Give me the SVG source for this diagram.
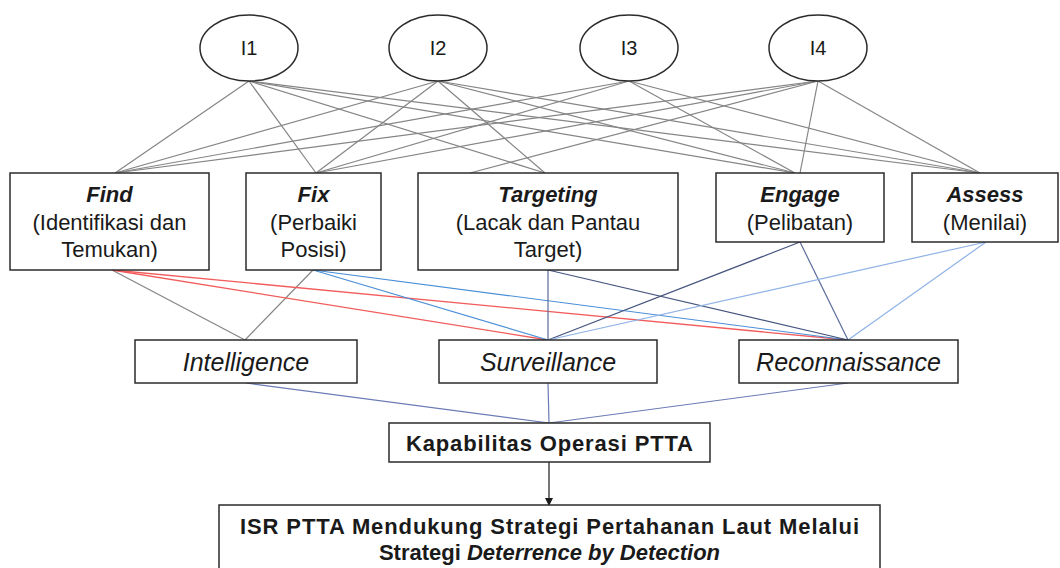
<svg xmlns="http://www.w3.org/2000/svg" width="1060" height="568" viewBox="0 0 1060 568">
  <style>
    .txt { font-family: "Liberation Sans", Arial, sans-serif; fill: #1a1a1a; text-anchor: middle; }
    .ell { fill: #ffffff; stroke: #2b2b2b; stroke-width: 1.5; }
    .box { fill: #ffffff; stroke: #2b2b2b; stroke-width: 1.5; }
    .lbl { font-size: 20px; }
    .ttl { font-size: 22px; font-weight: bold; font-style: italic; }
    .sub { font-size: 22px; }
    .isr { font-size: 25px; font-style: italic; }
    .bld { font-size: 22px; font-weight: bold; }
    .gray { stroke: #858585; stroke-width: 1.2; fill: none; }
    .red { stroke: #f25c5c; stroke-width: 1.3; fill: none; }
    .blue { stroke: #4a8fd6; stroke-width: 1.2; fill: none; }
    .slate { stroke: #5c6c9c; stroke-width: 1.2; fill: none; }
    .navy { stroke: #46557f; stroke-width: 1.2; fill: none; }
    .light { stroke: #8fb2e6; stroke-width: 1.2; fill: none; }
    .link { stroke: #6b7bb5; stroke-width: 1.2; fill: none; }
    .arrow { stroke: #1a1a1a; stroke-width: 1.2; fill: none; }
  </style>
  <defs>
    <marker id="arrowhead" markerWidth="8" markerHeight="8" refX="7" refY="4" orient="auto" markerUnits="userSpaceOnUse">
      <path d="M0,0 L8,4 L0,8 Z" fill="#1a1a1a"/>
    </marker>
  </defs>

  <!-- connectors -->
  <g id="connectors">
    <!-- indicators to F2T2EA stages -->
    <line class="gray" x1="249" y1="81" x2="115" y2="173"/>
    <line class="gray" x1="249" y1="81" x2="316" y2="173"/>
    <line class="gray" x1="249" y1="81" x2="545" y2="173"/>
    <line class="gray" x1="249" y1="81" x2="795" y2="173"/>
    <line class="gray" x1="249" y1="81" x2="980" y2="173"/>
    <line class="gray" x1="438" y1="81" x2="115" y2="173"/>
    <line class="gray" x1="438" y1="81" x2="316" y2="173"/>
    <line class="gray" x1="438" y1="81" x2="545" y2="173"/>
    <line class="gray" x1="438" y1="81" x2="795" y2="173"/>
    <line class="gray" x1="438" y1="81" x2="980" y2="173"/>
    <line class="gray" x1="629" y1="81" x2="115" y2="173"/>
    <line class="gray" x1="629" y1="81" x2="316" y2="173"/>
    <line class="gray" x1="629" y1="81" x2="795" y2="173"/>
    <line class="gray" x1="629" y1="81" x2="980" y2="173"/>
    <line class="gray" x1="818" y1="81" x2="115" y2="173"/>
    <line class="gray" x1="818" y1="81" x2="316" y2="173"/>
    <line class="gray" x1="818" y1="81" x2="470" y2="173"/>
    <line class="gray" x1="818" y1="81" x2="800" y2="173"/>
    <line class="gray" x1="818" y1="81" x2="980" y2="173"/>

    <!-- stages to ISR elements -->
    <line class="gray" x1="112" y1="270" x2="245" y2="340"/>
    <line class="gray" x1="313" y1="270" x2="245" y2="340"/>
    <line class="red" x1="112" y1="270" x2="548" y2="340"/>
    <line class="red" x1="112" y1="270" x2="848" y2="340"/>
    <line class="blue" x1="313" y1="270" x2="548" y2="340"/>
    <line class="blue" x1="313" y1="270" x2="848" y2="340"/>
    <line class="slate" x1="548" y1="270" x2="548" y2="340"/>
    <line class="navy" x1="548" y1="270" x2="848" y2="340"/>
    <line class="navy" x1="800" y1="242" x2="548" y2="340"/>
    <line class="slate" x1="800" y1="242" x2="848" y2="340"/>
    <line class="light" x1="986" y1="242" x2="548" y2="340"/>
    <line class="light" x1="986" y1="242" x2="848" y2="340"/>

    <!-- ISR elements to capability -->
    <line class="link" x1="246" y1="383" x2="549" y2="423"/>
    <line class="link" x1="548" y1="383" x2="549" y2="423"/>
    <line class="link" x1="848" y1="383" x2="549" y2="423"/>

    <!-- capability to strategy -->
    <line class="arrow" x1="549" y1="462" x2="549" y2="505" marker-end="url(#arrowhead)"/>
  </g>

  <!-- indicators -->
  <g id="I1">
    <ellipse class="ell" cx="249" cy="48" rx="49" ry="33"/>
    <text class="txt lbl" x="249" y="55">I1</text>
  </g>
  <g id="I2">
    <ellipse class="ell" cx="438" cy="48" rx="49" ry="33"/>
    <text class="txt lbl" x="438" y="55">I2</text>
  </g>
  <g id="I3">
    <ellipse class="ell" cx="629" cy="48" rx="49" ry="33"/>
    <text class="txt lbl" x="629" y="55">I3</text>
  </g>
  <g id="I4">
    <ellipse class="ell" cx="818" cy="48" rx="49" ry="33"/>
    <text class="txt lbl" x="818" y="55">I4</text>
  </g>

  <!-- kill-chain stages -->
  <g id="find">
    <rect class="box" x="10" y="173" width="199" height="97"/>
    <text class="txt ttl" x="109.5" y="202">Find</text>
    <text class="txt sub" x="109.5" y="230">(Identifikasi dan</text>
    <text class="txt sub" x="109.5" y="257">Temukan)</text>
  </g>
  <g id="fix">
    <rect class="box" x="246" y="173" width="135" height="97"/>
    <text class="txt ttl" x="313.5" y="202">Fix</text>
    <text class="txt sub" x="313.5" y="230">(Perbaiki</text>
    <text class="txt sub" x="313.5" y="257">Posisi)</text>
  </g>
  <g id="targeting">
    <rect class="box" x="418" y="173" width="260" height="97"/>
    <text class="txt ttl" x="548" y="202">Targeting</text>
    <text class="txt sub" x="548" y="230">(Lacak dan Pantau</text>
    <text class="txt sub" x="548" y="257">Target)</text>
  </g>
  <g id="engage">
    <rect class="box" x="716" y="173" width="168" height="69"/>
    <text class="txt ttl" x="800" y="202">Engage</text>
    <text class="txt sub" x="800" y="230">(Pelibatan)</text>
  </g>
  <g id="assess">
    <rect class="box" x="912" y="173" width="146" height="69"/>
    <text class="txt ttl" x="985" y="202">Assess</text>
    <text class="txt sub" x="985" y="230">(Menilai)</text>
  </g>

  <!-- ISR elements -->
  <g id="intelligence">
    <rect class="box" x="135" y="340" width="222" height="43"/>
    <text class="txt isr" x="246" y="371">Intelligence</text>
  </g>
  <g id="surveillance">
    <rect class="box" x="439" y="340" width="218" height="43"/>
    <text class="txt isr" x="548" y="371">Surveillance</text>
  </g>
  <g id="reconnaissance">
    <rect class="box" x="739" y="340" width="219" height="43"/>
    <text class="txt isr" x="848.5" y="371">Reconnaissance</text>
  </g>

  <!-- capability -->
  <g id="kapabilitas">
    <rect class="box" x="389" y="423" width="321" height="39"/>
    <text class="txt bld" x="549.5" y="451" textLength="287" lengthAdjust="spacing">Kapabilitas Operasi PTTA</text>
  </g>

  <!-- strategy -->
  <g id="strategi">
    <rect class="box" x="219" y="505" width="661" height="70"/>
    <text class="txt bld" x="549.5" y="534" textLength="619" lengthAdjust="spacing">ISR PTTA Mendukung Strategi Pertahanan Laut Melalui</text>
    <text class="txt bld" x="549.5" y="560">Strategi <tspan font-style="italic">Deterrence by Detection</tspan></text>
  </g>
</svg>
